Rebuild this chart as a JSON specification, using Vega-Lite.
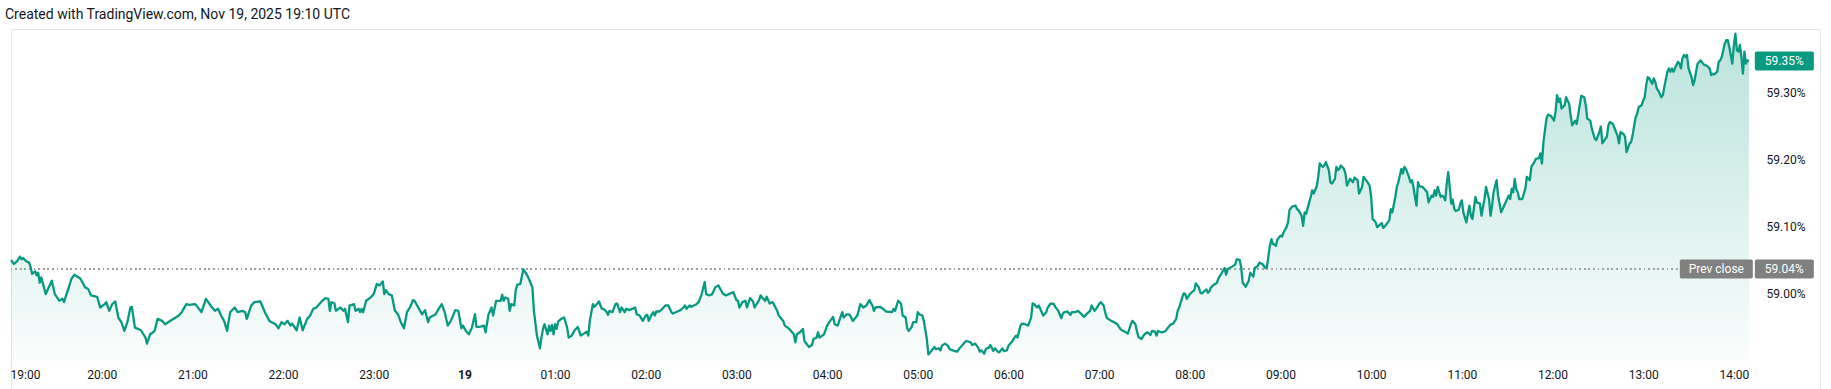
{
"$schema": "https://vega.github.io/schema/vega-lite/v6.json",
"width": 1809, "height": 360,
"autosize": {"type": "none"},
"padding": {"left": 11, "top": 29, "right": 11, "bottom": 0},
"background": "#ffffff",
"config": {
 "font": "Roboto",
 "view": {"stroke": "#e6e6e6", "strokeWidth": 1},
 "axis": {"grid": false, "domain": false, "ticks": false, "tickSize": 0, "labelFont": "Roboto", "labelFontSize": 12, "labelColor": "#131722", "title": null}
},
"title": {"text": "Created with TradingView.com, Nov 19, 2025 19:10 UTC", "anchor": "start", "frame": "group", "fontSize": 14, "fontWeight": "normal", "color": "#131722", "font": "Roboto", "baseline": "alphabetic", "offset": 8, "dy": 12, "dx": -6},
"datasets": {
 "tags": [{"k":"last","label":"59.35%","v":59.347},{"k":"prev","label":"59.04%","v":59.0365},{"k":"name","label":"Prev close","v":59.0365}],
 "px": [
{"t":"2025-11-18T19:00","v":59.050},{"t":"2025-11-18T19:02","v":59.044},{"t":"2025-11-18T19:04","v":59.048},{"t":"2025-11-18T19:06","v":59.055},{"t":"2025-11-18T19:07","v":59.051},{"t":"2025-11-18T19:08","v":59.053},{"t":"2025-11-18T19:10","v":59.048},{"t":"2025-11-18T19:12","v":59.046},{"t":"2025-11-18T19:13","v":59.039},{"t":"2025-11-18T19:14","v":59.029},{"t":"2025-11-18T19:16","v":59.033},{"t":"2025-11-18T19:17","v":59.027},{"t":"2025-11-18T19:18","v":59.031},{"t":"2025-11-18T19:19","v":59.016},{"t":"2025-11-18T19:20","v":59.024},{"t":"2025-11-18T19:23","v":58.999},{"t":"2025-11-18T19:27","v":59.019},{"t":"2025-11-18T19:29","v":58.999},{"t":"2025-11-18T19:32","v":58.989},{"t":"2025-11-18T19:34","v":58.992},{"t":"2025-11-18T19:35","v":58.987},{"t":"2025-11-18T19:38","v":59.007},{"t":"2025-11-18T19:40","v":59.022},{"t":"2025-11-18T19:42","v":59.028},{"t":"2025-11-18T19:46","v":59.022},{"t":"2025-11-18T19:49","v":59.009},{"t":"2025-11-18T19:51","v":59.007},{"t":"2025-11-18T19:53","v":58.997},{"t":"2025-11-18T19:57","v":58.995},{"t":"2025-11-18T19:59","v":58.979},
{"t":"2025-11-18T20:02","v":58.984},{"t":"2025-11-18T20:03","v":58.987},{"t":"2025-11-18T20:05","v":58.974},{"t":"2025-11-18T20:07","v":58.984},{"t":"2025-11-18T20:09","v":58.988},{"t":"2025-11-18T20:11","v":58.964},{"t":"2025-11-18T20:13","v":58.957},{"t":"2025-11-18T20:15","v":58.944},{"t":"2025-11-18T20:17","v":58.957},{"t":"2025-11-18T20:19","v":58.979},{"t":"2025-11-18T20:20","v":58.980},{"t":"2025-11-18T20:22","v":58.949},{"t":"2025-11-18T20:24","v":58.947},{"t":"2025-11-18T20:26","v":58.945},{"t":"2025-11-18T20:29","v":58.934},{"t":"2025-11-18T20:30","v":58.925},{"t":"2025-11-18T20:32","v":58.939},{"t":"2025-11-18T20:34","v":58.942},{"t":"2025-11-18T20:35","v":58.944},{"t":"2025-11-18T20:37","v":58.962},{"t":"2025-11-18T20:40","v":58.959},{"t":"2025-11-18T20:42","v":58.954},{"t":"2025-11-18T20:44","v":58.957},{"t":"2025-11-18T20:46","v":58.960},{"t":"2025-11-18T20:49","v":58.964},{"t":"2025-11-18T20:51","v":58.967},{"t":"2025-11-18T20:53","v":58.972},{"t":"2025-11-18T20:56","v":58.984},{"t":"2025-11-18T20:58","v":58.983},
{"t":"2025-11-18T21:02","v":58.984},{"t":"2025-11-18T21:06","v":58.972},{"t":"2025-11-18T21:09","v":58.992},{"t":"2025-11-18T21:12","v":58.982},{"t":"2025-11-18T21:15","v":58.974},{"t":"2025-11-18T21:17","v":58.977},{"t":"2025-11-18T21:19","v":58.967},{"t":"2025-11-18T21:21","v":58.959},{"t":"2025-11-18T21:23","v":58.944},{"t":"2025-11-18T21:25","v":58.972},{"t":"2025-11-18T21:28","v":58.979},{"t":"2025-11-18T21:30","v":58.972},{"t":"2025-11-18T21:33","v":58.974},{"t":"2025-11-18T21:35","v":58.972},{"t":"2025-11-18T21:36","v":58.962},{"t":"2025-11-18T21:39","v":58.982},{"t":"2025-11-18T21:41","v":58.987},{"t":"2025-11-18T21:45","v":58.988},{"t":"2025-11-18T21:48","v":58.972},{"t":"2025-11-18T21:51","v":58.959},{"t":"2025-11-18T21:55","v":58.954},{"t":"2025-11-18T21:57","v":58.948},{"t":"2025-11-18T21:59","v":58.957},
{"t":"2025-11-18T22:01","v":58.954},{"t":"2025-11-18T22:03","v":58.959},{"t":"2025-11-18T22:05","v":58.952},{"t":"2025-11-18T22:06","v":58.955},{"t":"2025-11-18T22:09","v":58.945},{"t":"2025-11-18T22:11","v":58.964},{"t":"2025-11-18T22:13","v":58.945},{"t":"2025-11-18T22:16","v":58.962},{"t":"2025-11-18T22:18","v":58.967},{"t":"2025-11-18T22:20","v":58.977},{"t":"2025-11-18T22:22","v":58.979},{"t":"2025-11-18T22:26","v":58.989},{"t":"2025-11-18T22:28","v":58.993},{"t":"2025-11-18T22:30","v":58.992},{"t":"2025-11-18T22:31","v":58.974},{"t":"2025-11-18T22:32","v":58.987},{"t":"2025-11-18T22:34","v":58.985},{"t":"2025-11-18T22:35","v":58.974},{"t":"2025-11-18T22:38","v":58.979},{"t":"2025-11-18T22:40","v":58.974},{"t":"2025-11-18T22:41","v":58.977},{"t":"2025-11-18T22:43","v":58.957},{"t":"2025-11-18T22:44","v":58.982},{"t":"2025-11-18T22:47","v":58.984},{"t":"2025-11-18T22:48","v":58.974},{"t":"2025-11-18T22:50","v":58.977},{"t":"2025-11-18T22:51","v":58.972},{"t":"2025-11-18T22:52","v":58.977},{"t":"2025-11-18T22:53","v":58.972},{"t":"2025-11-18T22:55","v":58.989},{"t":"2025-11-18T22:58","v":58.994},
{"t":"2025-11-18T23:00","v":58.999},{"t":"2025-11-18T23:02","v":59.014},{"t":"2025-11-18T23:04","v":59.012},{"t":"2025-11-18T23:06","v":59.018},{"t":"2025-11-18T23:07","v":58.999},{"t":"2025-11-18T23:08","v":59.005},{"t":"2025-11-18T23:10","v":58.999},{"t":"2025-11-18T23:12","v":58.997},{"t":"2025-11-18T23:14","v":58.974},{"t":"2025-11-18T23:15","v":58.972},{"t":"2025-11-18T23:16","v":58.969},{"t":"2025-11-18T23:18","v":58.957},{"t":"2025-11-18T23:20","v":58.948},{"t":"2025-11-18T23:22","v":58.972},{"t":"2025-11-18T23:24","v":58.979},{"t":"2025-11-18T23:26","v":58.990},{"t":"2025-11-18T23:27","v":58.989},{"t":"2025-11-18T23:30","v":58.977},{"t":"2025-11-18T23:32","v":58.969},{"t":"2025-11-18T23:34","v":58.975},{"t":"2025-11-18T23:36","v":58.957},{"t":"2025-11-18T23:37","v":58.964},{"t":"2025-11-18T23:41","v":58.969},{"t":"2025-11-18T23:43","v":58.977},{"t":"2025-11-18T23:45","v":58.984},{"t":"2025-11-18T23:47","v":58.972},{"t":"2025-11-18T23:49","v":58.952},{"t":"2025-11-18T23:51","v":58.959},{"t":"2025-11-18T23:54","v":58.975},{"t":"2025-11-18T23:56","v":58.974},{"t":"2025-11-18T23:58","v":58.948},{"t":"2025-11-18T23:59","v":58.952},
{"t":"2025-11-19T00:01","v":58.944},{"t":"2025-11-19T00:03","v":58.939},{"t":"2025-11-19T00:05","v":58.949},{"t":"2025-11-19T00:07","v":58.969},{"t":"2025-11-19T00:08","v":58.950},{"t":"2025-11-19T00:10","v":58.950},{"t":"2025-11-19T00:13","v":58.952},{"t":"2025-11-19T00:14","v":58.942},{"t":"2025-11-19T00:16","v":58.969},{"t":"2025-11-19T00:18","v":58.979},{"t":"2025-11-19T00:19","v":58.967},{"t":"2025-11-19T00:21","v":58.989},{"t":"2025-11-19T00:24","v":58.989},{"t":"2025-11-19T00:25","v":58.998},{"t":"2025-11-19T00:26","v":58.989},{"t":"2025-11-19T00:27","v":58.994},{"t":"2025-11-19T00:29","v":58.992},{"t":"2025-11-19T00:30","v":58.974},{"t":"2025-11-19T00:31","v":58.984},{"t":"2025-11-19T00:33","v":58.982},{"t":"2025-11-19T00:34","v":59.005},{"t":"2025-11-19T00:35","v":59.013},{"t":"2025-11-19T00:37","v":59.014},{"t":"2025-11-19T00:39","v":59.036},{"t":"2025-11-19T00:40","v":59.033},{"t":"2025-11-19T00:42","v":59.025},{"t":"2025-11-19T00:43","v":59.020},{"t":"2025-11-19T00:45","v":59.009},{"t":"2025-11-19T00:46","v":58.974},{"t":"2025-11-19T00:48","v":58.937},{"t":"2025-11-19T00:50","v":58.918},{"t":"2025-11-19T00:51","v":58.934},{"t":"2025-11-19T00:52","v":58.947},{"t":"2025-11-19T00:53","v":58.954},{"t":"2025-11-19T00:55","v":58.939},{"t":"2025-11-19T00:56","v":58.952},{"t":"2025-11-19T00:57","v":58.944},{"t":"2025-11-19T00:58","v":58.953},{"t":"2025-11-19T00:59","v":58.939},
{"t":"2025-11-19T01:00","v":58.954},{"t":"2025-11-19T01:01","v":58.947},{"t":"2025-11-19T01:02","v":58.958},{"t":"2025-11-19T01:04","v":58.962},{"t":"2025-11-19T01:06","v":58.964},{"t":"2025-11-19T01:08","v":58.949},{"t":"2025-11-19T01:09","v":58.934},{"t":"2025-11-19T01:11","v":58.937},{"t":"2025-11-19T01:13","v":58.945},{"t":"2025-11-19T01:15","v":58.950},{"t":"2025-11-19T01:17","v":58.937},{"t":"2025-11-19T01:19","v":58.940},{"t":"2025-11-19T01:21","v":58.943},{"t":"2025-11-19T01:22","v":58.937},{"t":"2025-11-19T01:23","v":58.959},{"t":"2025-11-19T01:25","v":58.984},{"t":"2025-11-19T01:26","v":58.980},{"t":"2025-11-19T01:28","v":58.985},{"t":"2025-11-19T01:29","v":58.988},{"t":"2025-11-19T01:31","v":58.977},{"t":"2025-11-19T01:32","v":58.977},{"t":"2025-11-19T01:34","v":58.973},{"t":"2025-11-19T01:35","v":58.968},{"t":"2025-11-19T01:36","v":58.974},{"t":"2025-11-19T01:38","v":58.972},{"t":"2025-11-19T01:40","v":58.984},{"t":"2025-11-19T01:41","v":58.985},{"t":"2025-11-19T01:43","v":58.972},{"t":"2025-11-19T01:44","v":58.979},{"t":"2025-11-19T01:46","v":58.972},{"t":"2025-11-19T01:47","v":58.977},{"t":"2025-11-19T01:49","v":58.975},{"t":"2025-11-19T01:51","v":58.977},{"t":"2025-11-19T01:53","v":58.979},{"t":"2025-11-19T01:54","v":58.969},{"t":"2025-11-19T01:56","v":58.967},{"t":"2025-11-19T01:58","v":58.959},
{"t":"2025-11-19T02:00","v":58.967},{"t":"2025-11-19T02:01","v":58.968},{"t":"2025-11-19T02:02","v":58.959},{"t":"2025-11-19T02:04","v":58.969},{"t":"2025-11-19T02:05","v":58.972},{"t":"2025-11-19T02:06","v":58.967},{"t":"2025-11-19T02:07","v":58.973},{"t":"2025-11-19T02:09","v":58.973},{"t":"2025-11-19T02:11","v":58.977},{"t":"2025-11-19T02:13","v":58.982},{"t":"2025-11-19T02:15","v":58.982},{"t":"2025-11-19T02:17","v":58.972},{"t":"2025-11-19T02:18","v":58.970},{"t":"2025-11-19T02:21","v":58.973},{"t":"2025-11-19T02:23","v":58.975},{"t":"2025-11-19T02:25","v":58.979},{"t":"2025-11-19T02:26","v":58.982},{"t":"2025-11-19T02:27","v":58.977},{"t":"2025-11-19T02:29","v":58.982},{"t":"2025-11-19T02:30","v":58.980},{"t":"2025-11-19T02:33","v":58.983},{"t":"2025-11-19T02:35","v":58.987},{"t":"2025-11-19T02:37","v":58.999},{"t":"2025-11-19T02:39","v":59.017},{"t":"2025-11-19T02:40","v":58.999},{"t":"2025-11-19T02:42","v":58.997},{"t":"2025-11-19T02:44","v":58.999},{"t":"2025-11-19T02:46","v":59.009},{"t":"2025-11-19T02:48","v":59.012},{"t":"2025-11-19T02:50","v":59.004},{"t":"2025-11-19T02:51","v":59.000},{"t":"2025-11-19T02:53","v":58.997},{"t":"2025-11-19T02:55","v":58.999},{"t":"2025-11-19T02:58","v":59.002},
{"t":"2025-11-19T03:00","v":58.990},{"t":"2025-11-19T03:01","v":58.989},{"t":"2025-11-19T03:02","v":58.979},{"t":"2025-11-19T03:04","v":58.987},{"t":"2025-11-19T03:06","v":58.989},{"t":"2025-11-19T03:07","v":58.979},{"t":"2025-11-19T03:09","v":58.993},{"t":"2025-11-19T03:11","v":58.988},{"t":"2025-11-19T03:12","v":58.979},{"t":"2025-11-19T03:15","v":58.990},{"t":"2025-11-19T03:16","v":58.997},{"t":"2025-11-19T03:17","v":58.994},{"t":"2025-11-19T03:19","v":58.989},{"t":"2025-11-19T03:20","v":58.995},{"t":"2025-11-19T03:22","v":58.985},{"t":"2025-11-19T03:24","v":58.987},{"t":"2025-11-19T03:27","v":58.974},{"t":"2025-11-19T03:28","v":58.967},{"t":"2025-11-19T03:31","v":58.959},{"t":"2025-11-19T03:32","v":58.952},{"t":"2025-11-19T03:35","v":58.947},{"t":"2025-11-19T03:38","v":58.939},{"t":"2025-11-19T03:39","v":58.927},{"t":"2025-11-19T03:40","v":58.939},{"t":"2025-11-19T03:42","v":58.942},{"t":"2025-11-19T03:44","v":58.947},{"t":"2025-11-19T03:45","v":58.929},{"t":"2025-11-19T03:48","v":58.920},{"t":"2025-11-19T03:50","v":58.923},{"t":"2025-11-19T03:51","v":58.932},{"t":"2025-11-19T03:53","v":58.934},{"t":"2025-11-19T03:54","v":58.942},{"t":"2025-11-19T03:55","v":58.934},{"t":"2025-11-19T03:58","v":58.939},
{"t":"2025-11-19T04:00","v":58.952},{"t":"2025-11-19T04:02","v":58.959},{"t":"2025-11-19T04:04","v":58.965},{"t":"2025-11-19T04:05","v":58.954},{"t":"2025-11-19T04:07","v":58.952},{"t":"2025-11-19T04:10","v":58.972},{"t":"2025-11-19T04:11","v":58.964},{"t":"2025-11-19T04:13","v":58.969},{"t":"2025-11-19T04:15","v":58.968},{"t":"2025-11-19T04:17","v":58.959},{"t":"2025-11-19T04:20","v":58.967},{"t":"2025-11-19T04:22","v":58.984},{"t":"2025-11-19T04:24","v":58.979},{"t":"2025-11-19T04:26","v":58.982},{"t":"2025-11-19T04:28","v":58.990},{"t":"2025-11-19T04:30","v":58.982},{"t":"2025-11-19T04:31","v":58.974},{"t":"2025-11-19T04:32","v":58.979},{"t":"2025-11-19T04:35","v":58.980},{"t":"2025-11-19T04:37","v":58.977},{"t":"2025-11-19T04:39","v":58.973},{"t":"2025-11-19T04:43","v":58.972},{"t":"2025-11-19T04:44","v":58.977},{"t":"2025-11-19T04:45","v":58.974},{"t":"2025-11-19T04:47","v":58.989},{"t":"2025-11-19T04:48","v":58.987},{"t":"2025-11-19T04:49","v":58.984},{"t":"2025-11-19T04:50","v":58.967},{"t":"2025-11-19T04:52","v":58.964},{"t":"2025-11-19T04:53","v":58.948},{"t":"2025-11-19T04:54","v":58.944},{"t":"2025-11-19T04:56","v":58.950},{"t":"2025-11-19T04:57","v":58.957},{"t":"2025-11-19T04:59","v":58.957},
{"t":"2025-11-19T05:00","v":58.972},{"t":"2025-11-19T05:01","v":58.969},{"t":"2025-11-19T05:03","v":58.967},{"t":"2025-11-19T05:04","v":58.959},{"t":"2025-11-19T05:06","v":58.932},{"t":"2025-11-19T05:07","v":58.909},{"t":"2025-11-19T05:09","v":58.914},{"t":"2025-11-19T05:11","v":58.920},{"t":"2025-11-19T05:12","v":58.917},{"t":"2025-11-19T05:14","v":58.918},{"t":"2025-11-19T05:15","v":58.915},{"t":"2025-11-19T05:16","v":58.922},{"t":"2025-11-19T05:18","v":58.925},{"t":"2025-11-19T05:20","v":58.922},{"t":"2025-11-19T05:21","v":58.917},{"t":"2025-11-19T05:23","v":58.915},{"t":"2025-11-19T05:26","v":58.913},{"t":"2025-11-19T05:28","v":58.919},{"t":"2025-11-19T05:30","v":58.924},{"t":"2025-11-19T05:32","v":58.929},{"t":"2025-11-19T05:35","v":58.927},{"t":"2025-11-19T05:36","v":58.923},{"t":"2025-11-19T05:38","v":58.925},{"t":"2025-11-19T05:40","v":58.919},{"t":"2025-11-19T05:41","v":58.913},{"t":"2025-11-19T05:42","v":58.915},{"t":"2025-11-19T05:44","v":58.910},{"t":"2025-11-19T05:45","v":58.917},{"t":"2025-11-19T05:47","v":58.919},{"t":"2025-11-19T05:48","v":58.923},{"t":"2025-11-19T05:50","v":58.914},{"t":"2025-11-19T05:51","v":58.918},{"t":"2025-11-19T05:53","v":58.913},{"t":"2025-11-19T05:54","v":58.912},{"t":"2025-11-19T05:56","v":58.918},{"t":"2025-11-19T05:57","v":58.914},{"t":"2025-11-19T05:59","v":58.915},
{"t":"2025-11-19T06:00","v":58.922},{"t":"2025-11-19T06:02","v":58.927},{"t":"2025-11-19T06:04","v":58.934},{"t":"2025-11-19T06:05","v":58.937},{"t":"2025-11-19T06:06","v":58.934},{"t":"2025-11-19T06:08","v":58.952},{"t":"2025-11-19T06:09","v":58.955},{"t":"2025-11-19T06:11","v":58.954},{"t":"2025-11-19T06:13","v":58.952},{"t":"2025-11-19T06:15","v":58.964},{"t":"2025-11-19T06:16","v":58.985},{"t":"2025-11-19T06:17","v":58.984},{"t":"2025-11-19T06:19","v":58.979},{"t":"2025-11-19T06:20","v":58.982},{"t":"2025-11-19T06:21","v":58.977},{"t":"2025-11-19T06:23","v":58.967},{"t":"2025-11-19T06:25","v":58.972},{"t":"2025-11-19T06:26","v":58.979},{"t":"2025-11-19T06:28","v":58.985},{"t":"2025-11-19T06:30","v":58.984},{"t":"2025-11-19T06:31","v":58.980},{"t":"2025-11-19T06:33","v":58.974},{"t":"2025-11-19T06:35","v":58.963},{"t":"2025-11-19T06:36","v":58.970},{"t":"2025-11-19T06:37","v":58.972},{"t":"2025-11-19T06:39","v":58.973},{"t":"2025-11-19T06:41","v":58.968},{"t":"2025-11-19T06:42","v":58.972},{"t":"2025-11-19T06:44","v":58.972},{"t":"2025-11-19T06:46","v":58.974},{"t":"2025-11-19T06:48","v":58.970},{"t":"2025-11-19T06:50","v":58.965},{"t":"2025-11-19T06:52","v":58.970},{"t":"2025-11-19T06:54","v":58.974},{"t":"2025-11-19T06:55","v":58.982},{"t":"2025-11-19T06:57","v":58.974},{"t":"2025-11-19T06:58","v":58.977},
{"t":"2025-11-19T07:00","v":58.984},{"t":"2025-11-19T07:01","v":58.987},{"t":"2025-11-19T07:03","v":58.982},{"t":"2025-11-19T07:04","v":58.972},{"t":"2025-11-19T07:05","v":58.964},{"t":"2025-11-19T07:06","v":58.962},{"t":"2025-11-19T07:08","v":58.959},{"t":"2025-11-19T07:10","v":58.957},{"t":"2025-11-19T07:12","v":58.954},{"t":"2025-11-19T07:14","v":58.947},{"t":"2025-11-19T07:15","v":58.945},{"t":"2025-11-19T07:17","v":58.943},{"t":"2025-11-19T07:19","v":58.940},{"t":"2025-11-19T07:21","v":58.954},{"t":"2025-11-19T07:22","v":58.959},{"t":"2025-11-19T07:24","v":58.954},{"t":"2025-11-19T07:25","v":58.944},{"t":"2025-11-19T07:26","v":58.935},{"t":"2025-11-19T07:28","v":58.932},{"t":"2025-11-19T07:30","v":58.939},{"t":"2025-11-19T07:32","v":58.942},{"t":"2025-11-19T07:34","v":58.938},{"t":"2025-11-19T07:35","v":58.944},{"t":"2025-11-19T07:37","v":58.943},{"t":"2025-11-19T07:38","v":58.937},{"t":"2025-11-19T07:39","v":58.944},{"t":"2025-11-19T07:41","v":58.942},{"t":"2025-11-19T07:42","v":58.942},{"t":"2025-11-19T07:44","v":58.944},{"t":"2025-11-19T07:46","v":58.950},{"t":"2025-11-19T07:47","v":58.953},{"t":"2025-11-19T07:49","v":58.955},{"t":"2025-11-19T07:51","v":58.962},{"t":"2025-11-19T07:52","v":58.974},{"t":"2025-11-19T07:53","v":58.979},{"t":"2025-11-19T07:55","v":58.994},{"t":"2025-11-19T07:56","v":59.000},{"t":"2025-11-19T07:57","v":58.999},{"t":"2025-11-19T07:58","v":58.992},
{"t":"2025-11-19T08:00","v":58.999},{"t":"2025-11-19T08:01","v":59.001},{"t":"2025-11-19T08:03","v":59.005},{"t":"2025-11-19T08:04","v":59.015},{"t":"2025-11-19T08:06","v":59.009},{"t":"2025-11-19T08:07","v":59.001},{"t":"2025-11-19T08:08","v":59.000},{"t":"2025-11-19T08:10","v":59.004},{"t":"2025-11-19T08:11","v":59.006},{"t":"2025-11-19T08:12","v":59.001},{"t":"2025-11-19T08:13","v":59.003},{"t":"2025-11-19T08:14","v":59.009},{"t":"2025-11-19T08:16","v":59.013},{"t":"2025-11-19T08:18","v":59.016},{"t":"2025-11-19T08:19","v":59.023},{"t":"2025-11-19T08:21","v":59.030},{"t":"2025-11-19T08:23","v":59.038},{"t":"2025-11-19T08:24","v":59.028},{"t":"2025-11-19T08:25","v":59.036},{"t":"2025-11-19T08:28","v":59.040},{"t":"2025-11-19T08:30","v":59.043},{"t":"2025-11-19T08:31","v":59.051},{"t":"2025-11-19T08:33","v":59.050},{"t":"2025-11-19T08:34","v":59.039},{"t":"2025-11-19T08:35","v":59.016},{"t":"2025-11-19T08:37","v":59.010},{"t":"2025-11-19T08:39","v":59.019},{"t":"2025-11-19T08:40","v":59.031},{"t":"2025-11-19T08:42","v":59.025},{"t":"2025-11-19T08:43","v":59.038},{"t":"2025-11-19T08:45","v":59.041},{"t":"2025-11-19T08:46","v":59.046},{"t":"2025-11-19T08:48","v":59.044},{"t":"2025-11-19T08:50","v":59.038},{"t":"2025-11-19T08:51","v":59.039},{"t":"2025-11-19T08:53","v":59.071},{"t":"2025-11-19T08:54","v":59.081},{"t":"2025-11-19T08:55","v":59.074},{"t":"2025-11-19T08:56","v":59.073},{"t":"2025-11-19T08:57","v":59.071},{"t":"2025-11-19T08:58","v":59.081},
{"t":"2025-11-19T09:00","v":59.086},{"t":"2025-11-19T09:01","v":59.085},{"t":"2025-11-19T09:02","v":59.091},{"t":"2025-11-19T09:04","v":59.099},{"t":"2025-11-19T09:05","v":59.106},{"t":"2025-11-19T09:06","v":59.125},{"t":"2025-11-19T09:08","v":59.130},{"t":"2025-11-19T09:10","v":59.131},{"t":"2025-11-19T09:11","v":59.126},{"t":"2025-11-19T09:12","v":59.124},{"t":"2025-11-19T09:14","v":59.116},{"t":"2025-11-19T09:15","v":59.101},{"t":"2025-11-19T09:16","v":59.121},{"t":"2025-11-19T09:17","v":59.119},{"t":"2025-11-19T09:19","v":59.136},{"t":"2025-11-19T09:20","v":59.144},{"t":"2025-11-19T09:21","v":59.154},{"t":"2025-11-19T09:22","v":59.149},{"t":"2025-11-19T09:24","v":59.160},{"t":"2025-11-19T09:25","v":59.174},{"t":"2025-11-19T09:26","v":59.194},{"t":"2025-11-19T09:27","v":59.191},{"t":"2025-11-19T09:28","v":59.189},{"t":"2025-11-19T09:29","v":59.191},{"t":"2025-11-19T09:30","v":59.196},{"t":"2025-11-19T09:32","v":59.184},{"t":"2025-11-19T09:33","v":59.166},{"t":"2025-11-19T09:34","v":59.164},{"t":"2025-11-19T09:36","v":59.171},{"t":"2025-11-19T09:37","v":59.189},{"t":"2025-11-19T09:38","v":59.184},{"t":"2025-11-19T09:39","v":59.186},{"t":"2025-11-19T09:40","v":59.191},{"t":"2025-11-19T09:42","v":59.186},{"t":"2025-11-19T09:43","v":59.179},{"t":"2025-11-19T09:44","v":59.161},{"t":"2025-11-19T09:45","v":59.166},{"t":"2025-11-19T09:46","v":59.171},{"t":"2025-11-19T09:48","v":59.166},{"t":"2025-11-19T09:49","v":59.173},{"t":"2025-11-19T09:51","v":59.169},{"t":"2025-11-19T09:52","v":59.149},{"t":"2025-11-19T09:54","v":59.159},{"t":"2025-11-19T09:55","v":59.174},{"t":"2025-11-19T09:57","v":59.168},{"t":"2025-11-19T09:59","v":59.161},
{"t":"2025-11-19T10:00","v":59.144},{"t":"2025-11-19T10:01","v":59.111},{"t":"2025-11-19T10:02","v":59.109},{"t":"2025-11-19T10:03","v":59.106},{"t":"2025-11-19T10:04","v":59.099},{"t":"2025-11-19T10:05","v":59.101},{"t":"2025-11-19T10:07","v":59.105},{"t":"2025-11-19T10:08","v":59.098},{"t":"2025-11-19T10:09","v":59.100},{"t":"2025-11-19T10:11","v":59.106},{"t":"2025-11-19T10:12","v":59.109},{"t":"2025-11-19T10:13","v":59.126},{"t":"2025-11-19T10:14","v":59.121},{"t":"2025-11-19T10:16","v":59.144},{"t":"2025-11-19T10:17","v":59.159},{"t":"2025-11-19T10:18","v":59.166},{"t":"2025-11-19T10:20","v":59.186},{"t":"2025-11-19T10:21","v":59.179},{"t":"2025-11-19T10:22","v":59.189},{"t":"2025-11-19T10:23","v":59.186},{"t":"2025-11-19T10:25","v":59.174},{"t":"2025-11-19T10:26","v":59.166},{"t":"2025-11-19T10:27","v":59.169},{"t":"2025-11-19T10:28","v":59.159},{"t":"2025-11-19T10:29","v":59.144},{"t":"2025-11-19T10:30","v":59.131},{"t":"2025-11-19T10:31","v":59.166},{"t":"2025-11-19T10:32","v":59.160},{"t":"2025-11-19T10:34","v":59.159},{"t":"2025-11-19T10:36","v":59.154},{"t":"2025-11-19T10:37","v":59.151},{"t":"2025-11-19T10:38","v":59.136},{"t":"2025-11-19T10:39","v":59.141},{"t":"2025-11-19T10:40","v":59.146},{"t":"2025-11-19T10:41","v":59.144},{"t":"2025-11-19T10:42","v":59.154},{"t":"2025-11-19T10:43","v":59.146},{"t":"2025-11-19T10:44","v":59.159},{"t":"2025-11-19T10:46","v":59.144},{"t":"2025-11-19T10:47","v":59.146},{"t":"2025-11-19T10:48","v":59.144},{"t":"2025-11-19T10:49","v":59.139},{"t":"2025-11-19T10:50","v":59.164},{"t":"2025-11-19T10:51","v":59.181},{"t":"2025-11-19T10:52","v":59.159},{"t":"2025-11-19T10:53","v":59.134},{"t":"2025-11-19T10:54","v":59.140},{"t":"2025-11-19T10:55","v":59.126},{"t":"2025-11-19T10:56","v":59.123},{"t":"2025-11-19T10:58","v":59.125},{"t":"2025-11-19T10:59","v":59.134},
{"t":"2025-11-19T11:00","v":59.139},{"t":"2025-11-19T11:01","v":59.121},{"t":"2025-11-19T11:03","v":59.106},{"t":"2025-11-19T11:04","v":59.119},{"t":"2025-11-19T11:05","v":59.131},{"t":"2025-11-19T11:06","v":59.116},{"t":"2025-11-19T11:07","v":59.111},{"t":"2025-11-19T11:09","v":59.144},{"t":"2025-11-19T11:10","v":59.136},{"t":"2025-11-19T11:12","v":59.134},{"t":"2025-11-19T11:13","v":59.116},{"t":"2025-11-19T11:14","v":59.129},{"t":"2025-11-19T11:15","v":59.141},{"t":"2025-11-19T11:16","v":59.159},{"t":"2025-11-19T11:18","v":59.141},{"t":"2025-11-19T11:19","v":59.116},{"t":"2025-11-19T11:20","v":59.131},{"t":"2025-11-19T11:21","v":59.151},{"t":"2025-11-19T11:23","v":59.169},{"t":"2025-11-19T11:24","v":59.146},{"t":"2025-11-19T11:26","v":59.121},{"t":"2025-11-19T11:27","v":59.126},{"t":"2025-11-19T11:29","v":59.136},{"t":"2025-11-19T11:31","v":59.146},{"t":"2025-11-19T11:32","v":59.141},{"t":"2025-11-19T11:33","v":59.156},{"t":"2025-11-19T11:34","v":59.151},{"t":"2025-11-19T11:35","v":59.171},{"t":"2025-11-19T11:36","v":59.156},{"t":"2025-11-19T11:37","v":59.151},{"t":"2025-11-19T11:38","v":59.141},{"t":"2025-11-19T11:40","v":59.141},{"t":"2025-11-19T11:42","v":59.156},{"t":"2025-11-19T11:43","v":59.174},{"t":"2025-11-19T11:45","v":59.169},{"t":"2025-11-19T11:46","v":59.189},{"t":"2025-11-19T11:48","v":59.196},{"t":"2025-11-19T11:49","v":59.201},{"t":"2025-11-19T11:51","v":59.202},{"t":"2025-11-19T11:52","v":59.209},{"t":"2025-11-19T11:53","v":59.194},{"t":"2025-11-19T11:54","v":59.226},{"t":"2025-11-19T11:56","v":59.261},{"t":"2025-11-19T11:57","v":59.267},{"t":"2025-11-19T11:59","v":59.265},
{"t":"2025-11-19T12:01","v":59.258},{"t":"2025-11-19T12:02","v":59.271},{"t":"2025-11-19T12:03","v":59.296},{"t":"2025-11-19T12:04","v":59.286},{"t":"2025-11-19T12:05","v":59.291},{"t":"2025-11-19T12:06","v":59.276},{"t":"2025-11-19T12:08","v":59.281},{"t":"2025-11-19T12:09","v":59.293},{"t":"2025-11-19T12:11","v":59.283},{"t":"2025-11-19T12:12","v":59.266},{"t":"2025-11-19T12:13","v":59.251},{"t":"2025-11-19T12:15","v":59.258},{"t":"2025-11-19T12:16","v":59.253},{"t":"2025-11-19T12:18","v":59.281},{"t":"2025-11-19T12:19","v":59.295},{"t":"2025-11-19T12:21","v":59.293},{"t":"2025-11-19T12:22","v":59.281},{"t":"2025-11-19T12:23","v":59.261},{"t":"2025-11-19T12:25","v":59.258},{"t":"2025-11-19T12:26","v":59.246},{"t":"2025-11-19T12:28","v":59.231},{"t":"2025-11-19T12:29","v":59.229},{"t":"2025-11-19T12:31","v":59.241},{"t":"2025-11-19T12:32","v":59.249},{"t":"2025-11-19T12:33","v":59.224},{"t":"2025-11-19T12:35","v":59.231},{"t":"2025-11-19T12:36","v":59.234},{"t":"2025-11-19T12:37","v":59.251},{"t":"2025-11-19T12:38","v":59.256},{"t":"2025-11-19T12:40","v":59.253},{"t":"2025-11-19T12:42","v":59.241},{"t":"2025-11-19T12:43","v":59.236},{"t":"2025-11-19T12:44","v":59.224},{"t":"2025-11-19T12:45","v":59.241},{"t":"2025-11-19T12:47","v":59.238},{"t":"2025-11-19T12:48","v":59.234},{"t":"2025-11-19T12:49","v":59.211},{"t":"2025-11-19T12:51","v":59.224},{"t":"2025-11-19T12:52","v":59.226},{"t":"2025-11-19T12:53","v":59.236},{"t":"2025-11-19T12:55","v":59.263},{"t":"2025-11-19T12:56","v":59.268},{"t":"2025-11-19T12:57","v":59.278},{"t":"2025-11-19T12:59","v":59.281},
{"t":"2025-11-19T13:00","v":59.288},{"t":"2025-11-19T13:01","v":59.293},{"t":"2025-11-19T13:02","v":59.311},{"t":"2025-11-19T13:03","v":59.323},{"t":"2025-11-19T13:04","v":59.321},{"t":"2025-11-19T13:06","v":59.313},{"t":"2025-11-19T13:07","v":59.321},{"t":"2025-11-19T13:08","v":59.316},{"t":"2025-11-19T13:09","v":59.306},{"t":"2025-11-19T13:10","v":59.303},{"t":"2025-11-19T13:12","v":59.293},{"t":"2025-11-19T13:13","v":59.296},{"t":"2025-11-19T13:14","v":59.308},{"t":"2025-11-19T13:16","v":59.331},{"t":"2025-11-19T13:17","v":59.336},{"t":"2025-11-19T13:18","v":59.331},{"t":"2025-11-19T13:19","v":59.336},{"t":"2025-11-19T13:20","v":59.331},{"t":"2025-11-19T13:22","v":59.341},{"t":"2025-11-19T13:23","v":59.346},{"t":"2025-11-19T13:24","v":59.343},{"t":"2025-11-19T13:25","v":59.336},{"t":"2025-11-19T13:26","v":59.351},{"t":"2025-11-19T13:27","v":59.356},{"t":"2025-11-19T13:28","v":59.353},{"t":"2025-11-19T13:29","v":59.356},{"t":"2025-11-19T13:30","v":59.336},{"t":"2025-11-19T13:32","v":59.323},{"t":"2025-11-19T13:33","v":59.311},{"t":"2025-11-19T13:34","v":59.318},{"t":"2025-11-19T13:35","v":59.331},{"t":"2025-11-19T13:36","v":59.343},{"t":"2025-11-19T13:38","v":59.348},{"t":"2025-11-19T13:40","v":59.342},{"t":"2025-11-19T13:42","v":59.340},{"t":"2025-11-19T13:44","v":59.336},{"t":"2025-11-19T13:45","v":59.326},{"t":"2025-11-19T13:46","v":59.328},{"t":"2025-11-19T13:47","v":59.327},{"t":"2025-11-19T13:49","v":59.331},{"t":"2025-11-19T13:50","v":59.346},{"t":"2025-11-19T13:51","v":59.348},{"t":"2025-11-19T13:52","v":59.353},{"t":"2025-11-19T13:54","v":59.373},{"t":"2025-11-19T13:55","v":59.378},{"t":"2025-11-19T13:56","v":59.378},{"t":"2025-11-19T13:57","v":59.368},{"t":"2025-11-19T13:59","v":59.343},
{"t":"2025-11-19T14:00","v":59.371},{"t":"2025-11-19T14:01","v":59.388},{"t":"2025-11-19T14:02","v":59.363},{"t":"2025-11-19T14:03","v":59.361},{"t":"2025-11-19T14:04","v":59.371},{"t":"2025-11-19T14:05","v":59.353},{"t":"2025-11-19T14:06","v":59.328},{"t":"2025-11-19T14:07","v":59.361},{"t":"2025-11-19T14:08","v":59.343},{"t":"2025-11-19T14:09","v":59.348},{"t":"2025-11-19T14:10","v":59.347}
 ]
},
"layer": [
 {
  "data": {"name": "px"},
  "mark": {"type": "area", "line": false, "color": {"gradient": "linear", "x1": 0, "y1": 0, "x2": 0, "y2": 1, "stops": [{"offset": 0, "color": "rgba(8,153,129,0.28)"}, {"offset": 1, "color": "rgba(8,153,129,0.02)"}]}},
  "encoding": {
   "x": {"field": "t", "type": "temporal",
         "scale": {"domain": [{"year": 2025, "month": 11, "date": 18, "hours": 19, "minutes": 0}, {"year": 2025, "month": 11, "date": 19, "hours": 14, "minutes": 57}], "nice": false},
         "axis": {"orient": "bottom", "offset": -15, "labelPadding": 0, "labelBaseline": "middle", "labelFlush": true, "labelFlushOffset": 1, "labelOverlap": false,
                  "values": [
                   {"year": 2025, "month": 11, "date": 18, "hours": 19}, {"year": 2025, "month": 11, "date": 18, "hours": 20}, {"year": 2025, "month": 11, "date": 18, "hours": 21}, {"year": 2025, "month": 11, "date": 18, "hours": 22}, {"year": 2025, "month": 11, "date": 18, "hours": 23},
                   {"year": 2025, "month": 11, "date": 19, "hours": 0}, {"year": 2025, "month": 11, "date": 19, "hours": 1}, {"year": 2025, "month": 11, "date": 19, "hours": 2}, {"year": 2025, "month": 11, "date": 19, "hours": 3}, {"year": 2025, "month": 11, "date": 19, "hours": 4},
                   {"year": 2025, "month": 11, "date": 19, "hours": 5}, {"year": 2025, "month": 11, "date": 19, "hours": 6}, {"year": 2025, "month": 11, "date": 19, "hours": 7}, {"year": 2025, "month": 11, "date": 19, "hours": 8}, {"year": 2025, "month": 11, "date": 19, "hours": 9},
                   {"year": 2025, "month": 11, "date": 19, "hours": 10}, {"year": 2025, "month": 11, "date": 19, "hours": 11}, {"year": 2025, "month": 11, "date": 19, "hours": 12}, {"year": 2025, "month": 11, "date": 19, "hours": 13}, {"year": 2025, "month": 11, "date": 19, "hours": 14}],
                  "labelExpr": "hours(datum.value) == 0 ? '19' : timeFormat(datum.value, '%H:%M')",
                  "labelFontWeight": {"condition": {"test": "hours(datum.value) == 0", "value": "bold"}, "value": "normal"}}},
   "y": {"field": "v", "type": "quantitative",
         "scale": {"domain": [58.8573, 59.3948], "zero": false, "nice": false},
         "axis": {"orient": "right", "offset": -54, "labelPadding": 0, "labelAlign": "left", "values": [59.0, 59.1, 59.2, 59.3], "labelExpr": "format(datum.value, '.2f') + '%'"}},
   "y2": {"datum": 58.8993}
  }
 },
 {
  "data": {"name": "px"},
  "mark": {"type": "rule", "color": "#a0a0a0", "strokeWidth": 1, "strokeDash": [1, 3.6]},
  "encoding": {
   "y": {"datum": 59.0365, "type": "quantitative"},
   "x": {"datum": {"year": 2025, "month": 11, "date": 18, "hours": 19, "minutes": 0}, "type": "temporal"},
   "x2": {"datum": {"year": 2025, "month": 11, "date": 19, "hours": 14, "minutes": 0}}
  }
 },
 {
  "data": {"name": "px"},
  "mark": {"type": "line", "color": "#089981", "strokeWidth": 2.3, "strokeJoin": "round"},
  "encoding": {
   "x": {"field": "t", "type": "temporal"},
   "y": {"field": "v", "type": "quantitative"}
  }
 },
 {
  "data": {"name": "tags"},
  "transform": [{"filter": "datum.k != 'name'"}],
  "mark": {"type": "point", "shape": "M-0.94,-0.32H0.94Q1,-0.32 1,-0.26V0.26Q1,0.32 0.94,0.32H-0.94Q-1,0.32 -1,0.26V-0.26Q-1,-0.32 -0.94,-0.32Z", "filled": true, "size": 3481, "opacity": 1, "strokeWidth": 0},
  "encoding": {
   "x": {"datum": {"year": 2025, "month": 11, "date": 19, "hours": 14, "minutes": 33, "seconds": 24}, "type": "temporal"},
   "y": {"field": "v", "type": "quantitative"},
   "color": {"field": "k", "type": "nominal", "scale": {"domain": ["last", "prev"], "range": ["#089981", "#808080"]}, "legend": null}
  }
 },
 {
  "data": {"name": "tags"},
  "transform": [{"filter": "datum.k == 'name'"}],
  "mark": {"type": "point", "shape": "M-0.95,-0.26H0.95Q1,-0.26 1,-0.21V0.21Q1,0.26 0.95,0.26H-0.95Q-1,0.26 -1,0.21V-0.21Q-1,-0.26 -0.95,-0.26Z", "filled": true, "size": 5329, "opacity": 1, "strokeWidth": 0, "color": "#808080"},
  "encoding": {
   "x": {"datum": {"year": 2025, "month": 11, "date": 19, "hours": 13, "minutes": 48, "seconds": 24}, "type": "temporal"},
   "y": {"field": "v", "type": "quantitative"}
  }
 },
 {
  "data": {"name": "tags"},
  "transform": [{"filter": "datum.k != 'name'"}],
  "mark": {"type": "text", "color": "#ffffff", "fontSize": 12, "font": "Roboto", "align": "center", "baseline": "middle"},
  "encoding": {
   "x": {"datum": {"year": 2025, "month": 11, "date": 19, "hours": 14, "minutes": 33, "seconds": 24}, "type": "temporal"},
   "y": {"field": "v", "type": "quantitative"},
   "text": {"field": "label"}
  }
 },
 {
  "data": {"name": "tags"},
  "transform": [{"filter": "datum.k == 'name'"}],
  "mark": {"type": "text", "color": "#ffffff", "fontSize": 12, "font": "Roboto", "align": "center", "baseline": "middle"},
  "encoding": {
   "x": {"datum": {"year": 2025, "month": 11, "date": 19, "hours": 13, "minutes": 48, "seconds": 24}, "type": "temporal"},
   "y": {"field": "v", "type": "quantitative"},
   "text": {"field": "label"}
  }
 }
]
}
